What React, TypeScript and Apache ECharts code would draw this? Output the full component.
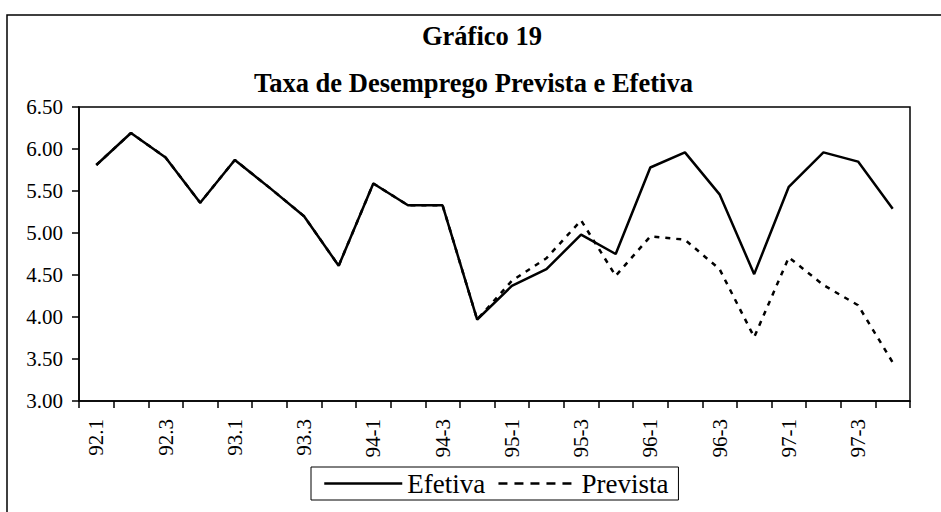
import React, { useEffect, useRef } from "react";
import * as echarts from "echarts";

const categories = [
  "92.1", "92.2", "92.3", "92.4",
  "93.1", "93.2", "93.3", "93.4",
  "94-1", "94-2", "94-3", "94-4",
  "95-1", "95-2", "95-3", "95-4",
  "96-1", "96-2", "96-3", "96-4",
  "97-1", "97-2", "97-3", "97-4",
];

const efetiva = [
  5.81, 6.19, 5.9, 5.36, 5.87, 5.54, 5.2, 4.61, 5.59, 5.33, 5.33, 3.97,
  4.37, 4.57, 4.98, 4.75, 5.78, 5.96, 5.46, 4.51, 5.55, 5.96, 5.85, 5.29,
];

const prevista = [
  5.81, 6.19, 5.9, 5.36, 5.87, 5.54, 5.2, 4.61, 5.59, 5.33, 5.33, 3.97,
  4.43, 4.7, 5.15, 4.49, 4.96, 4.92, 4.57, 3.76, 4.71, 4.38, 4.14, 3.46,
];

const yMin = 3;
const yMax = 6.5;
const yStep = 0.5;

const titleText = "Gráfico 19";
const subtitleText = "Taxa de Desemprego Prevista e Efetiva";
const seriesNames = ["Efetiva", "Prevista"];

const FONT = "'Liberation Serif', 'Times New Roman', serif";

export default function App() {
  const ref = useRef<HTMLDivElement>(null);

  useEffect(() => {
    if (!ref.current) return;
    const chart = echarts.init(ref.current, null, { renderer: "svg" });
    chart.setOption({
      animation: false,
      backgroundColor: "#ffffff",
      textStyle: { fontFamily: FONT, color: "#000" },
      graphic: [
        {
          type: "rect",
          silent: true,
          z: -10,
          shape: { x: 7, y: 15, width: 1000, height: 700 },
          style: { fill: "none", stroke: "#000", lineWidth: 1.5 },
        },
      ],
      title: [
        {
          text: titleText,
          left: 422,
          top: 22,
          padding: 0,
          textStyle: { fontFamily: FONT, fontSize: 26.5, fontWeight: "bold", color: "#000" },
        },
        {
          text: subtitleText,
          left: 254,
          top: 69,
          padding: 0,
          textStyle: { fontFamily: FONT, fontSize: 26.5, fontWeight: "bold", color: "#000" },
        },
      ],
      legend: {
        left: 311,
        top: 467,
        orient: "horizontal",
        itemWidth: 78,
        itemHeight: 14,
        itemGap: 12,
        padding: [3, 10, 3, 12],
        borderColor: "#000",
        borderWidth: 1,
        itemStyle: { opacity: 0, color: "transparent", borderWidth: 0 },
        textStyle: { fontFamily: FONT, fontSize: 27, color: "#000" },
        data: [
          { name: seriesNames[0], lineStyle: { type: "solid", width: 2.5, color: "#000" } },
          { name: seriesNames[1], lineStyle: { type: [9, 7], width: 2.5, color: "#000" } },
        ],
      },
      grid: {
        left: 79,
        right: 31,
        top: 107,
        bottom: 111,
        show: true,
        borderColor: "#000",
        borderWidth: 1.5,
        backgroundColor: "transparent",
      },
      xAxis: {
        type: "category",
        data: categories,
        boundaryGap: true,
        axisLine: { show: true, lineStyle: { color: "#000", width: 1.5 } },
        axisTick: { show: true, interval: 0, length: 7, lineStyle: { color: "#000", width: 1.5 } },
        axisLabel: {
          interval: 1,
          rotate: 90,
          fontSize: 21,
          color: "#000",
          margin: 18,
          fontFamily: FONT,
        },
        splitLine: { show: false },
      },
      yAxis: {
        type: "value",
        min: yMin,
        max: yMax,
        interval: yStep,
        axisLine: { show: true, lineStyle: { color: "#000", width: 1.5 } },
        axisTick: { show: true, length: 7, lineStyle: { color: "#000", width: 1.5 } },
        axisLabel: {
          fontSize: 21,
          color: "#000",
          margin: 16,
          fontFamily: FONT,
          formatter: (v: number) => v.toFixed(2),
        },
        splitLine: { show: false },
      },
      series: [
        {
          name: seriesNames[0],
          type: "line",
          data: efetiva,
          symbol: "none",
          z: 2,
          color: "#000",
          lineStyle: { color: "#000", width: 2.5, type: "solid" },
        },
        {
          name: seriesNames[1],
          type: "line",
          data: prevista,
          symbol: "none",
          z: 3,
          color: "#000",
          lineStyle: { color: "#000", width: 2.5, type: [5, 6] },
        },
      ],
    });
    return () => chart.dispose();
  }, []);

  return (
    <div
      ref={ref}
      style={{ position: "fixed", left: 0, top: 0, width: 941, height: 512, background: "#fff" }}
    />
  );
}
